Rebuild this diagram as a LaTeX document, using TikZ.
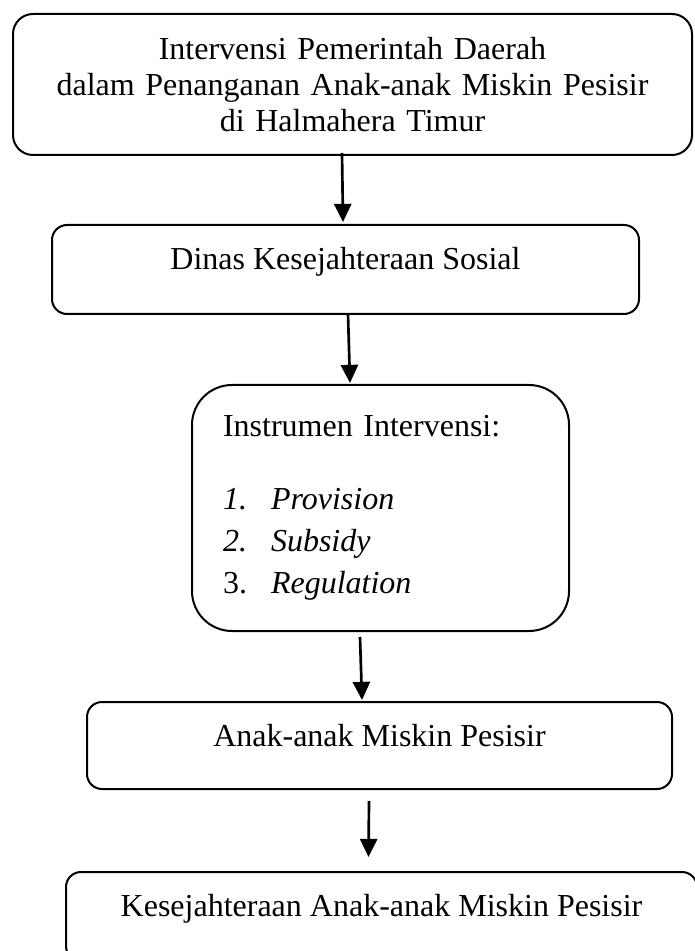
\documentclass[tikz,border=0pt]{standalone}
\usepackage{fontspec}
\setmainfont{Liberation Serif}
\usetikzlibrary{arrows.meta,calc}

\begin{document}
\begin{tikzpicture}[x=.375pt,y=-.375pt,font=\fontsize{12}{13.5}\selectfont,
    rbox/.style={draw,line width=.75pt,rounded corners=5.625pt,inner sep=0pt,anchor=north},
    flow/.style={line width=1pt,-{Triangle[length=6.8pt,width=6.4pt]}}]
      \useasboundingbox (0,0) rectangle (694,951);
      \node[rbox,rounded corners=7.5pt,text width=254.625pt,align=center,
        text height=17.25pt,text depth=35.625pt] (pemda) at (352.5,13)
        {Intervensi Pemerintah Daerah\\dalam Penanganan Anak-anak Miskin Pesisir\\di Halmahera Timur};
      \node[rbox,minimum width=220.125pt,text height=16.875pt,text depth=16.5pt] (dinas) at (345.5,224)
        {Dinas Kesejahteraan Sosial};
      \node[rbox,rounded corners=15pt,inner xsep=11.625pt,text width=118.125pt,align=left,
        text height=19.125pt,text depth=73.125pt] (instr) at (380.5,384)
        {Instrumen Intervensi:\\[13.875pt]
         \makebox[18pt][l]{\itshape 1.}\textit{Provision}\\[2.25pt]
         \makebox[18pt][l]{\itshape 2.}\textit{Subsidy}\\[2.25pt]
         \makebox[18pt][l]{3.}\textit{Regulation}};
      \node[rbox,minimum width=219.375pt,text height=16.5pt,text depth=16.125pt] (anak) at (379.5,701)
        {Anak-anak Miskin Pesisir};
      \node[rbox,minimum width=236.625pt,text height=16.5pt,text depth=16.875pt] (sejahtera) at (381.5,871)
        {Kesejahteraan Anak-anak Miskin Pesisir};
      \draw[flow] ($(pemda.south)+(-10.5,-3)$) -- ($(dinas.north)+(-2.5,-2)$);
      \draw[flow] ($(dinas.south)+(2.5,-1)$) -- ($(instr.north)+(-30.5,-1)$);
      \draw[flow] ($(instr.south)+(-20.5,5)$) -- ($(anak.north)+(-17.5,-1)$);
      \draw[flow] ($(anak.south)+(-10.5,11)$) -- ($(sejahtera.north)+(-13,-14)$);
    \end{tikzpicture}
\end{document}
